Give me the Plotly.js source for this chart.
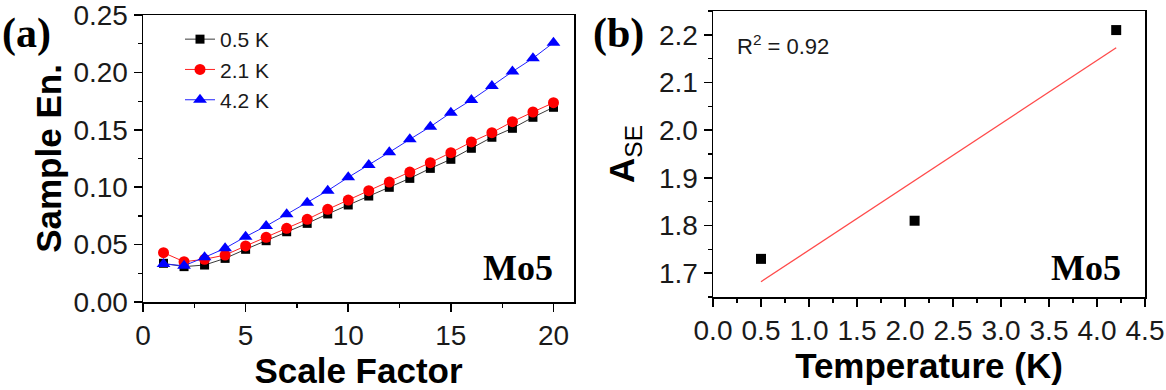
<!DOCTYPE html>
<html>
<head>
<meta charset="utf-8">
<script src="https://cdn.plot.ly/plotly-3.0.1.min.js"></script>
<style>
  html, body { margin: 0; padding: 0; background: #fff; }
  #chart { width: 1166px; height: 390px; }
</style>
</head>
<body>
<div id="chart"></div>
<script>
// Panel (a): Sample entropy vs scale factor
const scaleFactor = [1,2,3,4,5,6,7,8,9,10,11,12,13,14,15,16,17,18,19,20];
const se_05K = [0.0337,0.0308,0.0322,0.0380,0.0459,0.0534,0.0612,0.0685,0.0767,0.0845,0.0923,0.0999,0.1077,0.1164,0.1243,0.1339,0.1435,0.1513,0.1609,0.1696];
const se_21K = [0.0430,0.0351,0.0372,0.0409,0.0488,0.0563,0.0642,0.0720,0.0807,0.0888,0.0970,0.1045,0.1132,0.1214,0.1301,0.1394,0.1475,0.1571,0.1655,0.1736];
const se_42K = [0.0331,0.0316,0.0389,0.0468,0.0569,0.0662,0.0764,0.0865,0.0970,0.1086,0.1193,0.1304,0.1417,0.1527,0.1649,0.1760,0.1882,0.2007,0.2123,0.2259];
const seriesNames = ['0.5 K', '2.1 K', '4.2 K'];

// Panel (b): A_SE vs temperature
const temperature = [0.5, 2.1, 4.2];
const aSE = [1.73, 1.81, 2.21];
const fitX = [0.5, 4.2];
const fitY = [1.682, 2.173];
const r2Label = 'R<sup>2</sup> = 0.92';

const W = 1166, H = 390;
const tickFont = {family: 'Liberation Sans, Arial, sans-serif', size: 28, color: '#1a1a1a'};
const titleFont = {family: 'Liberation Sans, Arial, sans-serif', size: 35, color: '#000', weight: 'bold'};

const traces = [
  {x: scaleFactor, y: se_05K, name: seriesNames[0], type: 'scatter', mode: 'lines+markers',
   line: {color: '#3a3a3a', width: 1}, marker: {symbol: 'square', size: 9, color: '#000'}, xaxis: 'x', yaxis: 'y'},
  {x: scaleFactor, y: se_21K, name: seriesNames[1], type: 'scatter', mode: 'lines+markers',
   line: {color: '#ff2020', width: 1}, marker: {symbol: 'circle', size: 11, color: '#ff0000'}, xaxis: 'x', yaxis: 'y'},
  {x: scaleFactor, y: se_42K, name: seriesNames[2], type: 'scatter', mode: 'lines+markers',
   line: {color: '#2020ff', width: 1}, marker: {symbol: 'triangle-up', size: 12, color: '#0000ff'}, xaxis: 'x', yaxis: 'y'},
  {x: fitX, y: fitY, type: 'scatter', mode: 'lines', showlegend: false,
   line: {color: '#ff4a4a', width: 1.3}, xaxis: 'x2', yaxis: 'y2'},
  {x: temperature, y: aSE, type: 'scatter', mode: 'markers', showlegend: false,
   marker: {symbol: 'square', size: 10, color: '#000'}, xaxis: 'x2', yaxis: 'y2'}
];

function axisBase() {
  return {
    showgrid: false, zeroline: false, showline: true, linecolor: '#000', linewidth: 1.5,
    mirror: true, ticks: 'outside', ticklen: 8, tickwidth: 1.5, tickcolor: '#000',
    tickfont: tickFont, automargin: false, ticklabeloverflow: 'allow',
    minor: {ticks: 'outside', ticklen: 4, tickwidth: 1.2, tickcolor: '#000', showgrid: false}
  };
}

const layout = {
  width: W, height: H,
  margin: {l: 0, r: 0, t: 0, b: 0},
  paper_bgcolor: '#fff', plot_bgcolor: '#fff',
  showlegend: true,
  legend: {
    x: 180 / W, y: 1 - 19 / H, xanchor: 'left', yanchor: 'top',
    bgcolor: 'rgba(0,0,0,0)', borderwidth: 0,
    font: {family: 'Liberation Sans, Arial, sans-serif', size: 21, color: '#1a1a1a'},
    tracegroupgap: 0
  },
  xaxis: Object.assign(axisBase(), {
    domain: [143 / W, 574 / W], range: [0, 21], anchor: 'y',
    tickmode: 'linear', tick0: 0, dtick: 5,
    minor: Object.assign(axisBase().minor, {dtick: 2.5}),
    title: {text: 'Scale Factor', font: titleFont, standoff: 0}
  }),
  yaxis: Object.assign(axisBase(), {
    domain: [88 / H, 375 / H], range: [0, 0.25], anchor: 'x',
    tickmode: 'linear', tick0: 0, dtick: 0.05, tickformat: '.2f',
    minor: Object.assign(axisBase().minor, {dtick: 0.025}),
    title: {text: 'Sample En.', font: titleFont, standoff: 1}
  }),
  xaxis2: Object.assign(axisBase(), {
    domain: [713 / W, 1145 / W], range: [0, 4.5], anchor: 'y2',
    tickmode: 'linear', tick0: 0, dtick: 0.5, tickformat: '.1f',
    minor: Object.assign(axisBase().minor, {dtick: 0.25}),
    title: {text: 'Temperature (K)', font: titleFont, standoff: 0}
  }),
  yaxis2: Object.assign(axisBase(), {
    domain: [93 / H, 379 / H], range: [1.65, 2.25], anchor: 'x2',
    tickmode: 'linear', tick0: 1.7, dtick: 0.1, tickformat: '.1f',
    minor: Object.assign(axisBase().minor, {dtick: 0.05}),
    title: {text: 'A<sub><span style="font-weight:normal">SE</span></sub>', font: titleFont, standoff: 13}
  }),
  annotations: [
    {text: '(a)', xref: 'paper', yref: 'paper', x: 0, y: 1 - 8 / H, xanchor: 'left', yanchor: 'top',
     showarrow: false, font: {family: 'Liberation Serif, Times New Roman, serif', size: 42, color: '#000', weight: 'bold'}},
    {text: '(b)', xref: 'paper', yref: 'paper', x: 591 / W, y: 1 - 8 / H, xanchor: 'left', yanchor: 'top',
     showarrow: false, font: {family: 'Liberation Serif, Times New Roman, serif', size: 42, color: '#000', weight: 'bold'}},
    {text: 'Mo5', xref: 'x domain', yref: 'y domain', x: 0.956, y: 0.118, xanchor: 'right', yanchor: 'middle',
     showarrow: false, font: {family: 'Liberation Serif, Times New Roman, serif', size: 36, color: '#000', weight: 'bold'}},
    {text: 'Mo5', xref: 'x2 domain', yref: 'y2 domain', x: 0.949, y: 0.101, xanchor: 'right', yanchor: 'middle',
     showarrow: false, font: {family: 'Liberation Serif, Times New Roman, serif', size: 36, color: '#000', weight: 'bold'}},
    {text: r2Label, xref: 'paper', yref: 'paper', x: 735 / W, y: 1 - 45 / H, xanchor: 'left', yanchor: 'middle',
     showarrow: false, font: {family: 'Liberation Sans, Arial, sans-serif', size: 22, color: '#1a1a1a'}}
  ]
};

Plotly.newPlot('chart', traces, layout, {displayModeBar: false, staticPlot: true});
</script>
</body>
</html>
